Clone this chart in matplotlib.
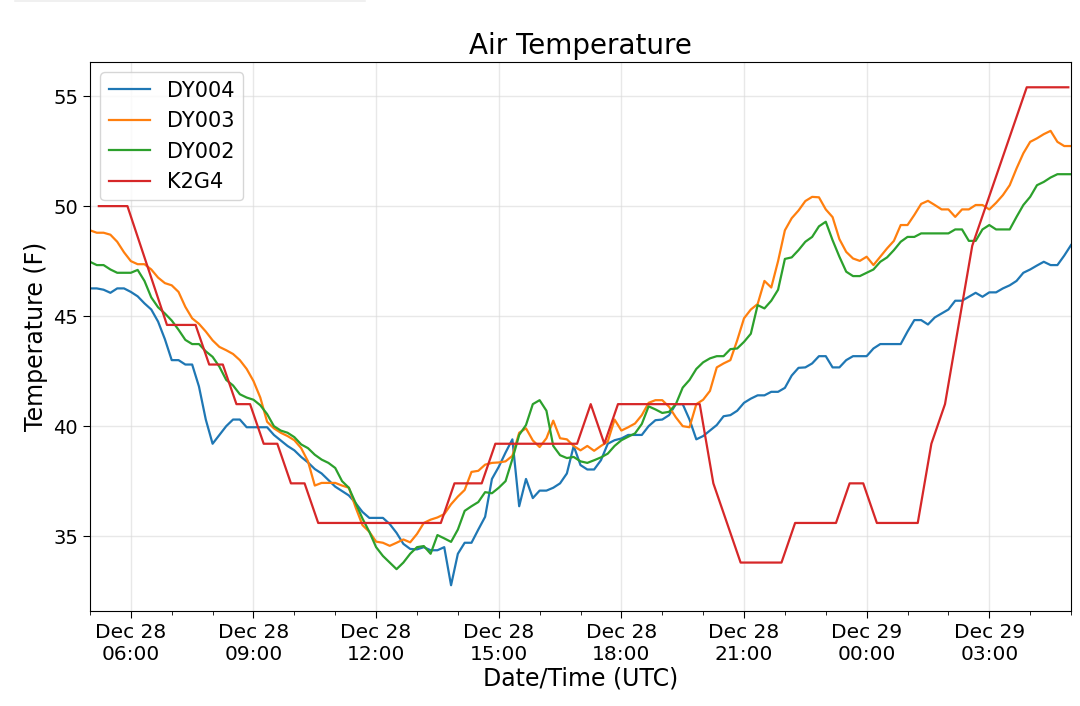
import numpy as np
import pandas as pd
import matplotlib
matplotlib.use('Agg')
import matplotlib.pyplot as plt
import matplotlib.dates as mdates
from matplotlib.lines import Line2D

# 10-minute station readings, Dec 28 05:00 UTC -> Dec 29 05:00 UTC
times = pd.date_range('2018-12-28 05:00', periods=145, freq='10min')

dy004 = [46.26, 46.26, 46.2, 46.06, 46.26, 46.26, 46.1, 45.9, 45.58, 45.3,
         44.75, 43.95, 43.0, 43.0, 42.8, 42.8, 41.8, 40.3, 39.2, 39.6,
         40.0, 40.3, 40.3, 39.95, 39.95, 39.95, 39.95, 39.6, 39.35, 39.1,
         38.9, 38.6, 38.35, 38.05, 37.85, 37.55, 37.25, 37.05, 36.85, 36.5,
         36.1, 35.83, 35.83, 35.83, 35.55, 35.15, 34.65, 34.42, 34.4, 34.5,
         34.36, 34.36, 34.5, 32.77, 34.2, 34.7, 34.7, 35.3, 35.88, 37.6,
         38.15, 38.8, 39.4, 36.36, 37.6, 36.73, 37.07, 37.07, 37.2, 37.4,
         37.85, 39.1, 38.23, 38.03, 38.03, 38.45, 39.2, 39.36, 39.44, 39.6,
         39.6, 39.6, 40.0, 40.27, 40.3, 40.5, 41.0, 41.0, 40.3, 39.4,
         39.55, 39.8, 40.05, 40.45, 40.5, 40.7, 41.06, 41.25, 41.4, 41.4,
         41.56, 41.56, 41.74, 42.3, 42.65, 42.67, 42.85, 43.18, 43.18, 42.67,
         42.67, 43.0, 43.18, 43.18, 43.18, 43.53, 43.73, 43.73, 43.73, 43.73,
         44.3, 44.82, 44.82, 44.62, 44.94, 45.12, 45.3, 45.7, 45.7, 45.88,
         46.06, 45.88, 46.08, 46.08, 46.26, 46.4, 46.6, 46.97, 47.12, 47.3,
         47.47, 47.32, 47.32, 47.75, 48.23]

dy003 = [48.9, 48.79, 48.79, 48.7, 48.38, 47.9, 47.5, 47.36, 47.36, 47.12,
         46.75, 46.5, 46.4, 46.1, 45.42, 44.9, 44.65, 44.3, 43.9, 43.6,
         43.45, 43.28, 43.0, 42.6, 42.05, 41.3, 40.2, 39.9, 39.7, 39.55,
         39.36, 39.0, 38.4, 37.3, 37.42, 37.42, 37.42, 37.3, 37.2, 36.3,
         35.5, 35.2, 34.75, 34.7, 34.56, 34.7, 34.85, 34.72, 35.1, 35.6,
         35.75, 35.85, 36.0, 36.45, 36.8, 37.1, 37.92, 37.97, 38.25, 38.33,
         38.35, 38.4, 38.65, 39.7, 39.9, 39.35, 39.05, 39.45, 40.25, 39.45,
         39.4, 39.1, 38.9, 39.1, 38.88, 39.1, 39.3, 40.3, 39.8, 39.95,
         40.12, 40.5, 41.06, 41.18, 41.18, 40.88, 40.4, 40.0, 39.95, 41.0,
         41.2, 41.6, 42.67, 42.85, 43.0, 43.9, 44.9, 45.3, 45.55, 46.6,
         46.3, 47.5, 48.9, 49.45, 49.8, 50.23, 50.42, 50.4, 49.85, 49.5,
         48.5, 47.92, 47.62, 47.51, 47.7, 47.32, 47.7, 48.08, 48.42, 49.14,
         49.14, 49.6, 50.1, 50.24, 50.05, 49.85, 49.85, 49.51, 49.85, 49.85,
         50.05, 50.05, 49.85, 50.15, 50.5, 50.95, 51.71, 52.4, 52.92, 53.08,
         53.27, 53.42, 52.92, 52.73, 52.73]

dy002 = [47.47, 47.32, 47.32, 47.12, 46.97, 46.97, 46.97, 47.1, 46.6, 45.85,
         45.4, 45.12, 44.8, 44.38, 43.92, 43.73, 43.73, 43.4, 43.15, 42.7,
         42.1, 41.85, 41.45, 41.3, 41.2, 40.95, 40.55, 40.0, 39.8, 39.7,
         39.5, 39.17, 39.0, 38.7, 38.48, 38.33, 38.1, 37.5, 37.2, 36.5,
         35.8, 35.2, 34.5, 34.1, 33.8, 33.5, 33.8, 34.2, 34.5, 34.55,
         34.2, 35.05, 34.9, 34.74, 35.3, 36.15, 36.36, 36.55, 37.0, 36.95,
         37.2, 37.5, 38.5, 39.6, 40.05, 41.0, 41.18, 40.7, 39.1, 38.68,
         38.55, 38.6, 38.4, 38.33, 38.45, 38.58, 38.75, 39.1, 39.36, 39.52,
         39.67, 40.1, 40.9, 40.76, 40.6, 40.65, 41.0, 41.75, 42.1, 42.6,
         42.9, 43.08, 43.18, 43.18, 43.5, 43.53, 43.83, 44.2, 45.5, 45.35,
         45.7, 46.2, 47.6, 47.67, 48.0, 48.38, 48.6, 49.08, 49.29, 48.45,
         47.7, 47.02, 46.82, 46.82, 46.97, 47.12, 47.47, 47.67, 48.0, 48.38,
         48.6, 48.6, 48.76, 48.76, 48.76, 48.76, 48.76, 48.94, 48.94, 48.42,
         48.42, 48.94, 49.14, 48.94, 48.94, 48.94, 49.51, 50.05, 50.42, 50.95,
         51.1, 51.3, 51.45, 51.45, 51.45]

# K2G4 reports (whole deg C converted to F)
k2g4_times = ['2018-12-28 05:13', '2018-12-28 05:55', '2018-12-28 06:53', '2018-12-28 07:35',
              '2018-12-28 07:55', '2018-12-28 08:15', '2018-12-28 08:35', '2018-12-28 08:55',
              '2018-12-28 09:15', '2018-12-28 09:35', '2018-12-28 09:55', '2018-12-28 10:15',
              '2018-12-28 10:35', '2018-12-28 13:35', '2018-12-28 13:55', '2018-12-28 14:35',
              '2018-12-28 14:55', '2018-12-28 16:55', '2018-12-28 17:15', '2018-12-28 17:35',
              '2018-12-28 17:55', '2018-12-28 19:55', '2018-12-28 20:15', '2018-12-28 20:55',
              '2018-12-28 21:55', '2018-12-28 22:15', '2018-12-28 23:15', '2018-12-28 23:35',
              '2018-12-28 23:55', '2018-12-29 00:15', '2018-12-29 01:15', '2018-12-29 01:35',
              '2018-12-29 01:55', '2018-12-29 02:35', '2018-12-29 03:55', '2018-12-29 04:56']
k2g4 = [50.0, 50.0, 44.6, 44.6, 42.8, 42.8, 41.0, 41.0, 39.2, 39.2, 37.4, 37.4,
        35.6, 35.6, 37.4, 37.4, 39.2, 39.2, 41.0, 39.2, 41.0, 41.0, 37.4, 33.8,
        33.8, 35.6, 35.6, 37.4, 37.4, 35.6, 35.6, 39.2, 41.0, 48.2, 55.4, 55.4]
k2g4_times = pd.to_datetime(k2g4_times)

fig = plt.figure(figsize=(10.8, 7.06), dpi=100)
ax = fig.add_axes([0.0833, 0.1346, 0.9084, 0.7776])

ax.plot(times, dy004, color='#1f77b4', lw=1.6, label='DY004')
ax.plot(times, dy003, color='#ff7f0e', lw=1.6, label='DY003')
ax.plot(times, dy002, color='#2ca02c', lw=1.6, label='DY002')
ax.plot(k2g4_times, k2g4, color='#d62728', lw=1.6, label='K2G4')

ax.set_xlim(times[0], times[-1])
ax.set_ylim(31.6, 56.55)
ax.set_yticks([35, 40, 45, 50, 55])

ax.xaxis.set_major_locator(mdates.HourLocator(byhour=[0, 3, 6, 9, 12, 15, 18, 21]))
ax.xaxis.set_minor_locator(mdates.HourLocator())
ax.xaxis.set_major_formatter(mdates.DateFormatter('%b %d\n%H:%M'))
ax.tick_params(axis='y', which='major', labelsize=14, length=5)
ax.tick_params(axis='x', which='major', labelsize=14.5, length=5)
ax.tick_params(axis='x', which='minor', length=3)

ax.grid(True, which='major', color='#d9d9d9', alpha=0.6, lw=1.0)

ax.set_title('Air Temperature', fontsize=20)
ax.set_xlabel('Date/Time (UTC)', fontsize=17, labelpad=2)
ax.set_ylabel('Temperature (F)', fontsize=17)
ax.legend(loc='upper left', fontsize=15)

# faint strip left over at the top of the screenshot
fig.add_artist(Line2D([0.014, 0.338], [0.998, 0.998], color='#eeeeee', lw=1.2))

fig.savefig('out.png', dpi=100)
